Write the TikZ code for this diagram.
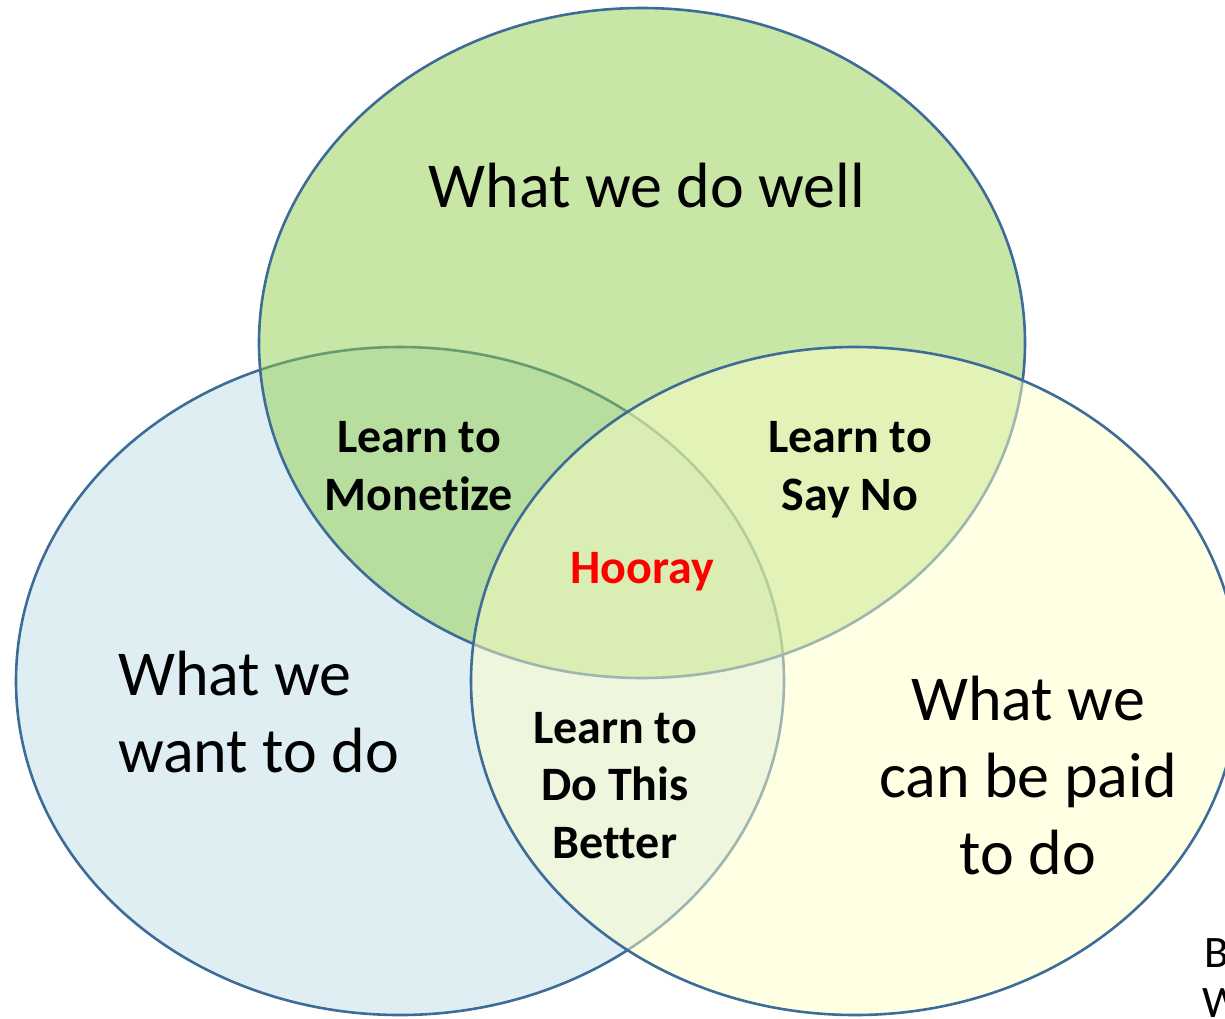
\documentclass[tikz,border=0pt]{standalone}
\usepackage{fontspec}
\setmainfont{Carlito}[Ligatures=NoCommon]
\definecolor{rim}{RGB}{62,108,152}
\definecolor{wantfill}{RGB}{189,221,229}
\definecolor{wellfill}{RGB}{145,205,77}
\definecolor{paidfill}{RGB}{255,255,201}
\definecolor{hooray}{RGB}{255,0,0}
\begin{document}
\begin{tikzpicture}[x=1pt,y=-1pt,
  setshape/.style={draw=rim,line width=2.6pt,fill opacity=0.5},
  bigtext/.style={font=\fontsize{64}{77}\selectfont,inner sep=0pt,anchor=base},
  boldtext/.style={font=\fontsize{48}{57.5}\selectfont\bfseries,inner sep=0pt,anchor=base,align=center},
  notetext/.style={font=\fontsize{45}{50}\selectfont,inner sep=0pt,anchor=base west}]
\useasboundingbox (0,0) rectangle (1225,1018);
\clip (0,0) rectangle (1225,1018);
% three overlapping sets, drawn bottom to top
\path[setshape,fill=wantfill] (400,681) ellipse [x radius=384,y radius=334];
\path[setshape,fill=wellfill] (642,343) ellipse [x radius=383,y radius=335];
\path[setshape,fill=paidfill] (855,681) ellipse [x radius=384,y radius=334];
% set captions
\node[bigtext] (well) at (647,207) {What we do well};
\node[bigtext,anchor=base west] (want1) at (118,695) {What we};
\node[bigtext,anchor=base west] (want2) at (118,772) {want to do};
\node[bigtext] (paid1) at (1028,720) {What we};
\node[bigtext] (paid2) at (1028,797) {can be paid};
\node[bigtext] (paid3) at (1028,874) {to do};
% overlap captions (anchored at the baseline of their last line)
\node[boldtext] (monetize) at (419,510) {Learn to\\Monetize};
\node[boldtext] (sayno) at (850,510) {Learn to\\Say No};
\node[boldtext] (better) at (615,858) {Learn to\\Do This\\Better};
\node[boldtext,text=hooray] (center) at (642,583) {Hooray};
% note at the lower right corner
\node[notetext] (noteB) at (1204,967) {B};
\node[notetext] (noteW) at (1202,1017) {W};
\end{tikzpicture}
\end{document}
